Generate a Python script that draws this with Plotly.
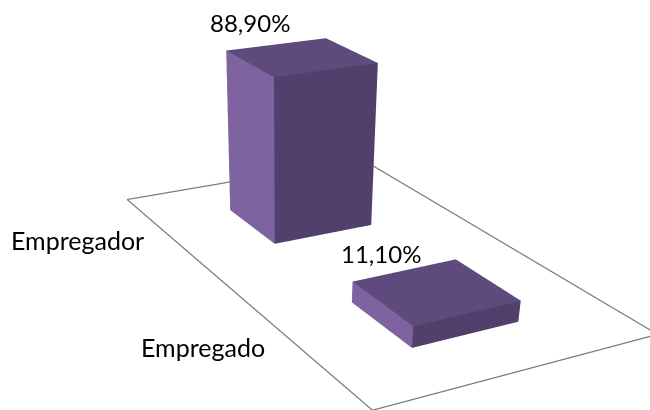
import plotly.graph_objects as go

# Categories run front to back along the depth axis of the 3D column chart.
categories = ["Empregado", "Empregador"]
values = [11.1, 88.9]  # percent

# Data labels use a comma as the decimal separator.
value_labels = [f"{v:.2f}".replace(".", ",") + "%" for v in values]

# ---- layout / style constants ----
BAR_CENTER = 0.484  # position of the columns across the floor (fraction)
BAR_WIDTH = 0.384   # fraction of the floor width
BAR_DEPTH = 0.4     # fraction of one category slot
Z_MAX = 100.0

COLOR_TOP = "#5F4A7D"
COLOR_FRONT = "#51406B"
COLOR_SIDE = "#7F63A0"
FLOOR_LINE = "#7C7C7C"
FONT = "Lato"
VALUE_FONT_SIZE = 24
CATEGORY_FONT_SIZE = 25

# pixel offsets of the labels from their anchor points, per category
VALUE_LABEL_SHIFT = [(-55, 38), (-51, 34)]
CATEGORY_LABEL_SHIFT = [(-29, -3), (-29, 1)]

FIG_W, FIG_H = 650, 1052


def box_mesh(x0, x1, y0, y1, z0, z1):
    xs = [x0, x1, x1, x0, x0, x1, x1, x0]
    ys = [y0, y0, y1, y1, y0, y0, y1, y1]
    zs = [z0, z0, z0, z0, z1, z1, z1, z1]
    faces = [
        ((0, 1, 2), COLOR_FRONT), ((0, 2, 3), COLOR_FRONT),   # bottom
        ((4, 5, 6), COLOR_TOP), ((4, 6, 7), COLOR_TOP),       # top
        ((0, 1, 5), COLOR_FRONT), ((0, 5, 4), COLOR_FRONT),   # front (low y)
        ((3, 2, 6), COLOR_FRONT), ((3, 6, 7), COLOR_FRONT),   # back
        ((0, 3, 7), COLOR_SIDE), ((0, 7, 4), COLOR_SIDE),     # left (low x)
        ((1, 2, 6), COLOR_FRONT), ((1, 6, 5), COLOR_FRONT),   # right
    ]
    return go.Mesh3d(
        x=xs, y=ys, z=zs,
        i=[f[0][0] for f in faces],
        j=[f[0][1] for f in faces],
        k=[f[0][2] for f in faces],
        facecolor=[f[1] for f in faces],
        flatshading=True,
        lighting=dict(ambient=1.0, diffuse=0.0, specular=0.0,
                      roughness=1.0, fresnel=0.0),
        hoverinfo="skip",
        showscale=False,
    )


fig = go.Figure()

n = len(categories)

# Floor outline
fig.add_trace(go.Scatter3d(
    x=[0, 1, 1, 0, 0], y=[0, 0, n, n, 0], z=[0, 0, 0, 0, 0],
    mode="lines", line=dict(color=FLOOR_LINE, width=2.5),
    hoverinfo="skip", showlegend=False,
))

annotations = []
for idx, (cat, val, lab) in enumerate(zip(categories, values, value_labels)):
    yc = idx + 0.5
    fig.add_trace(box_mesh(BAR_CENTER - BAR_WIDTH / 2, BAR_CENTER + BAR_WIDTH / 2,
                           yc - BAR_DEPTH / 2, yc + BAR_DEPTH / 2, 0, val))
    # value label above the column
    vx, vy = VALUE_LABEL_SHIFT[idx]
    annotations.append(dict(
        x=BAR_CENTER, y=yc, z=val, text=lab, showarrow=False,
        xanchor="center", yanchor="middle",
        xshift=vx, yshift=vy,
        font=dict(family=FONT, size=VALUE_FONT_SIZE, color="#000000"),
    ))
    # category label beside the floor edge
    cx, cy = CATEGORY_LABEL_SHIFT[idx]
    annotations.append(dict(
        x=0, y=yc, z=0, text=cat, showarrow=False,
        xanchor="right", yanchor="middle",
        xshift=cx, yshift=cy,
        font=dict(family=FONT, size=CATEGORY_FONT_SIZE, color="#000000"),
    ))

hidden_axis = dict(visible=False, showspikes=False)

fig.update_layout(
    width=FIG_W, height=FIG_H, autosize=False,
    margin=dict(l=0, r=0, t=0, b=0),
    paper_bgcolor="white",
    showlegend=False,
    scene=dict(
        domain=dict(x=[0, 1], y=[0, 1]),
        xaxis=dict(range=[0, 1], **hidden_axis),
        yaxis=dict(range=[0, n], **hidden_axis),
        zaxis=dict(range=[0, Z_MAX], **hidden_axis),
        aspectmode="manual",
        aspectratio=dict(x=1.028, y=1.797, z=0.644),
        bgcolor="white",
        camera=dict(
            eye=dict(x=-2.148, y=-3.4895, z=1.4165),
            center=dict(x=-0.9197, y=-1.3556, z=-0.2981),
            up=dict(x=0.2661, y=0.5077, z=0.8196),
            projection=dict(type="perspective"),
        ),
        annotations=annotations,
    ),
)

fig.write_html(
    "out.html",
    config={"displayModeBar": False},
    post_script="document.documentElement.style.overflow='hidden';"
                "document.body.style.overflow='hidden';"
                "document.body.style.margin='0';",
)
